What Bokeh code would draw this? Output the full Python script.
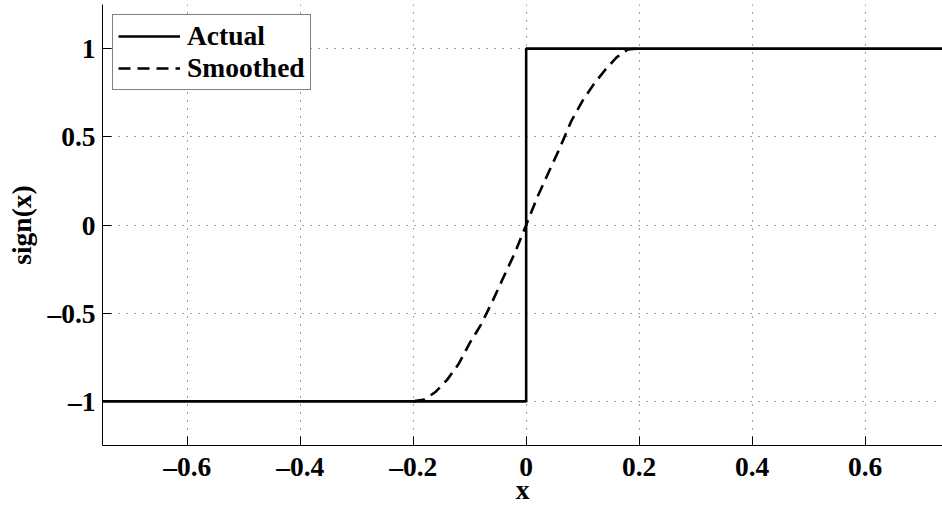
from bokeh.plotting import figure
from bokeh.models import FixedTicker, Legend, LegendItem, Range1d
from bokeh.embed import file_html
from bokeh.resources import INLINE

# data
actual_x = [-0.75, 0.0, 0.0, 0.75]
actual_y = [-1.0, -1.0, 1.0, 1.0]
smooth_x = [-0.20, -0.18, -0.16, -0.14, -0.12, -0.10, -0.08, -0.06, -0.04, -0.02,
            0.0, 0.02, 0.04, 0.06, 0.08, 0.10, 0.12, 0.14, 0.16, 0.18, 0.20]
smooth_y = [-1.0, -0.99, -0.945, -0.878, -0.79, -0.67, -0.565, -0.435, -0.295, -0.158,
            0.0, 0.16, 0.30, 0.44, 0.59, 0.705, 0.80, 0.88, 0.95, 0.995, 1.0]
x_ticks = [-0.6, -0.4, -0.2, 0.0, 0.2, 0.4, 0.6]
x_tick_labels = ["–0.6", "–0.4", "–0.2", "0", "0.2", "0.4", "0.6"]
y_ticks = [-1.0, -0.5, 0.0, 0.5, 1.0]
y_tick_labels = ["–1", "–0.5", "0", "0.5", "1"]
series_names = ["Actual", "Smoothed"]
x_label = "x"
y_label = "sign(x)"

FONT = "Liberation Serif"
FS = "27.5px"

p = figure(width=942, height=508, output_backend="svg", toolbar_location=None,
           x_range=Range1d(-0.75, 0.737), y_range=Range1d(-1.25, 1.25),
           min_border_left=102, min_border_right=0, min_border_top=4,
           min_border_bottom=63, background_fill_color="white",
           border_fill_color="white")
p.outline_line_color = None

r1 = p.line(actual_x, actual_y, line_color="black", line_width=2.6)
r2 = p.line(smooth_x, smooth_y, line_color="black", line_width=2.6, line_dash="12 7")

for ax, ticks, labels in ((p.xaxis[0], x_ticks, x_tick_labels), (p.yaxis[0], y_ticks, y_tick_labels)):
    ax.ticker = FixedTicker(ticks=ticks)
    ax.major_label_overrides = {t: l for t, l in zip(ticks, labels)}
    ax.minor_tick_line_color = None
    ax.major_tick_in = 9
    ax.major_tick_out = 0
    ax.major_tick_line_color = "black"
    ax.axis_line_color = "black"
    ax.axis_line_width = 1
    ax.major_label_text_font = FONT
    ax.major_label_text_font_style = "bold"
    ax.major_label_text_font_size = FS
    ax.major_label_text_color = "black"
    ax.axis_label_text_font = FONT
    ax.axis_label_text_font_style = "bold"
    ax.axis_label_text_font_size = FS
    ax.axis_label_text_color = "black"

p.xaxis[0].axis_label = x_label
p.xaxis[0].major_label_standoff = 5
p.xaxis[0].axis_label_standoff = -11
p.yaxis[0].axis_label = y_label
p.yaxis[0].major_label_standoff = 7
p.yaxis[0].axis_label_standoff = 7

for g in (p.xgrid[0], p.ygrid[0]):
    g.grid_line_color = "black"
    g.grid_line_alpha = 0.75
    g.grid_line_width = 1
    g.grid_line_dash = "1 7"

legend = Legend(items=[LegendItem(label=series_names[0], renderers=[r1]),
                       LegendItem(label=series_names[1], renderers=[r2])],
                location="top_left", margin=10, padding=5, spacing=0,
                glyph_width=62, glyph_height=26, label_height=26, label_standoff=7,
                label_text_font=FONT, label_text_font_style="bold",
                label_text_font_size=FS, label_text_color="black",
                border_line_color="black", border_line_width=1,
                background_fill_color="white", background_fill_alpha=1.0)
p.add_layout(legend, "center")

open("out.html", "w").write(file_html(p, INLINE))
